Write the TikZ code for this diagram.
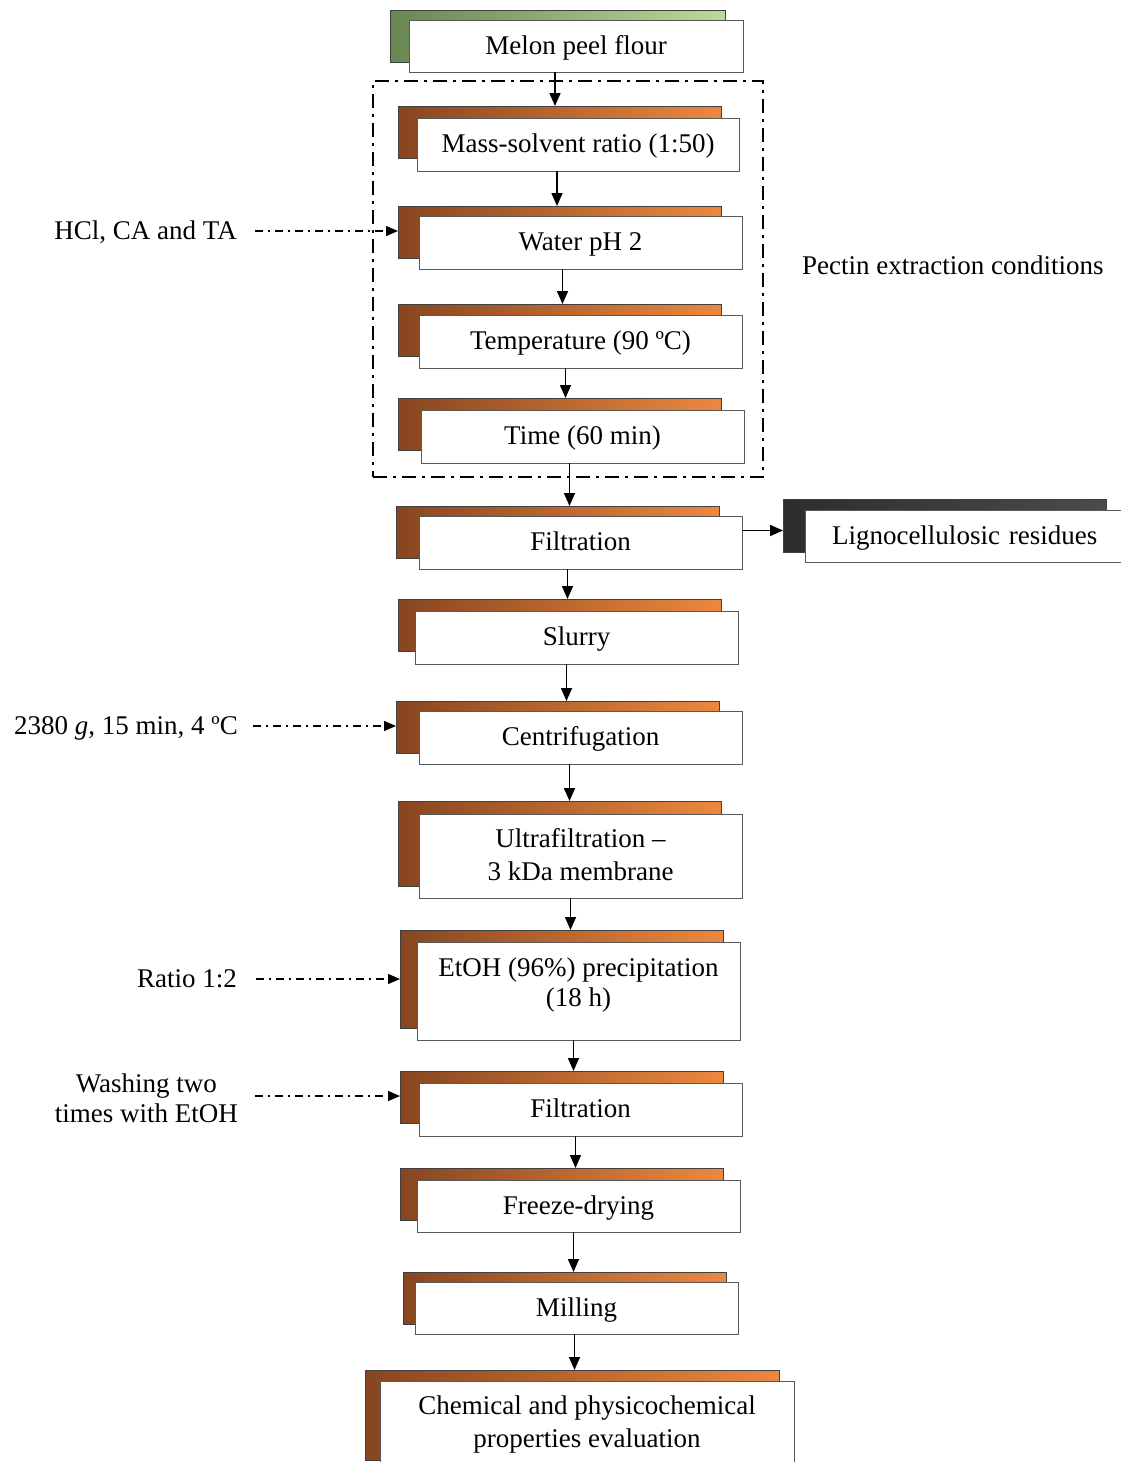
\documentclass[tikz,border=0pt]{standalone}
\usepackage{fontspec}
\setmainfont{Liberation Serif}
\usetikzlibrary{arrows.meta}
\definecolor{brL}{RGB}{135,70,32}
\definecolor{brR}{RGB}{236,136,62}
\definecolor{grL}{RGB}{104,134,82}
\definecolor{grR}{RGB}{184,218,154}
\definecolor{gyL}{RGB}{45,45,45}
\definecolor{gyR}{RGB}{75,75,75}
\newcommand\tx[2][-1.5pt]{\raisebox{#1}[19pt][6pt]{#2}}
\newcommand\tb[3]{\raisebox{#1}[0pt][0pt]{\begin{tabular}{@{}c@{}}#2\\[#3]\end{tabular}}}
\begin{document}
\begin{tikzpicture}[x=1pt,y=-1pt,
  font=\fontsize{27}{32}\selectfont,
  backbox/.style={draw=black!75, line width=0.7pt, left color=brL, right color=brR,
    anchor=north west, minimum width=323pt, minimum height=52pt, inner sep=0pt, outer sep=0pt},
  frontbox/.style={draw=black!65, fill=white, line width=0.8pt, anchor=north west,
    minimum width=323pt, minimum height=53pt, inner sep=0pt, outer sep=0pt, align=center},
  flow/.style={-{Triangle[length=13pt,width=11pt]}, line width=1.6pt},
  feed/.style={-{Triangle[length=12pt,width=10pt]}, line width=1.3pt, dash pattern=on 8pt off 5pt on 2pt off 5pt},
  sidetext/.style={inner sep=0pt, text height=19pt, text depth=6pt, align=center},
  frame/.style={draw, line width=2.6pt, dash pattern=on 14pt off 6pt on 3pt off 6pt,
    anchor=north west, inner sep=0pt, outer sep=0pt}
]
\useasboundingbox (0,0) rectangle (1121,1462);
\newcommand\flowar[3]{\draw[flow] ([xshift=#3pt]#1.south) -- ([xshift=#3pt]#1.south |- #2.north);}

% dash-dot frame
\node[frame, minimum width=390pt, minimum height=396pt] (frm) at (373,81) {};

% boxes
\node[backbox, left color=grL, right color=grR, minimum width=335pt] (b0) at (390,10) {};
\node[frontbox, minimum width=334pt, minimum height=52pt] (f0) at (409,20) {\tx{Melon peel flour}};

\node[backbox] (b1) at (398,106) {};
\node[frontbox, minimum width=322pt] (f1) at (417,118) {\tx{Mass-solvent ratio (1:50)}};

\node[backbox] (b2) at (398,206) {};
\node[frontbox] (f2) at (419,216) {\tx{Water pH 2}};

\node[backbox] (b3) at (398,304) {};
\node[frontbox] (f3) at (419,315) {\tx{Temperature (90 ºC)}};

\node[backbox] (b4) at (398,398) {};
\node[frontbox] (f4) at (421,410) {\tx{Time (60 min)}};

\node[backbox] (b5) at (396,506) {};
\node[frontbox] (f5) at (419,516) {\tx{Filtration}};

\node[backbox, left color=gyL, right color=gyR, minimum height=53pt] (bL) at (783,499) {};
\node[frontbox, minimum width=330pt, minimum height=52pt, text width=316pt, align=left] (fL) at (805,510) {\hspace*{20pt}\tx{Lignocellulosic residues}};

\node[backbox] (b6) at (398,599) {};
\node[frontbox] (f6) at (415,611) {\tx{Slurry}};

\node[backbox] (b7) at (396,701) {};
\node[frontbox] (f7) at (419,711) {\tx{Centrifugation}};

\node[backbox, minimum height=85pt] (b8) at (398,801) {};
\node[frontbox, minimum height=84pt] (f8) at (419,814) {\tb{2.5pt}{Ultrafiltration –\\[1pt]3 kDa membrane}{-20pt}};

\node[backbox, minimum height=98pt] (b9) at (400,930) {};
\node[frontbox, minimum height=98pt] (f9) at (417,942) {\tb{10pt}{EtOH (96\%) precipitation\\[-2pt](18 h)}{-20pt}};

\node[backbox] (b10) at (400,1071) {};
\node[frontbox] (f10) at (419,1083) {\tx{Filtration}};

\node[backbox] (b11) at (400,1168) {};
\node[frontbox, minimum height=52pt] (f11) at (417,1180) {\tx{Freeze-drying}};

\node[backbox] (b12) at (403,1272) {};
\node[frontbox, minimum height=52pt] (f12) at (415,1282) {\tx{Milling}};

\node[backbox, minimum width=414pt, minimum height=90pt] (b13) at (365,1370) {};
\node[frontbox, minimum width=414pt, minimum height=94pt] (f13) at (380,1381) {\tb{7.5pt}{Chemical and physicochemical\\[1pt]properties evaluation}{-20pt}};

% flow arrows
\flowar{f0}{b1}{-21}
\flowar{f1}{b2}{-21}
\flowar{f2}{b3}{-18}
\flowar{f3}{b4}{-15}
\flowar{f4}{b5}{-13}
\flowar{f5}{b6}{-13}
\flowar{f6}{b7}{-10}
\flowar{f7}{b8}{-11}
\flowar{f8}{b9}{-10}
\flowar{f9}{b10}{-5}
\flowar{f10}{b11}{-5}
\flowar{f11}{b12}{-5}
\flowar{f12}{b13}{-2}

\draw[flow] ([yshift=12pt]f5.east) -- ([yshift=12pt]f5.east -| bL.west);

% side labels
\node[sidetext, anchor=east] (l1) at (237,233) {HCl, CA and TA};
\draw[feed] ([xshift=18pt,yshift=2pt]l1.east) -- ([yshift=2pt]l1.east -| b2.west);

\node[sidetext, anchor=west] (l2) at (802,268) {Pectin extraction conditions};

\node[sidetext, anchor=east] (l3) at (238,728) {2380 \textit{g}, 15 min, 4 ºC};
\draw[feed] ([xshift=15pt,yshift=2pt]l3.east) -- ([yshift=2pt]l3.east -| b7.west);

\node[sidetext, anchor=east] (l4) at (237,981) {Ratio 1:2};
\draw[feed] ([xshift=19pt,yshift=2pt]l4.east) -- ([yshift=2pt]l4.east -| b9.west);

\node[inner sep=0pt, align=center, anchor=east, font=\fontsize{27}{30}\selectfont] (l5) at (238,1098) {Washing two\\times with EtOH};
\draw[feed] ([xshift=17pt,yshift=2pt]l5.east) -- ([yshift=2pt]l5.east -| b10.west);
\end{tikzpicture}
\end{document}
